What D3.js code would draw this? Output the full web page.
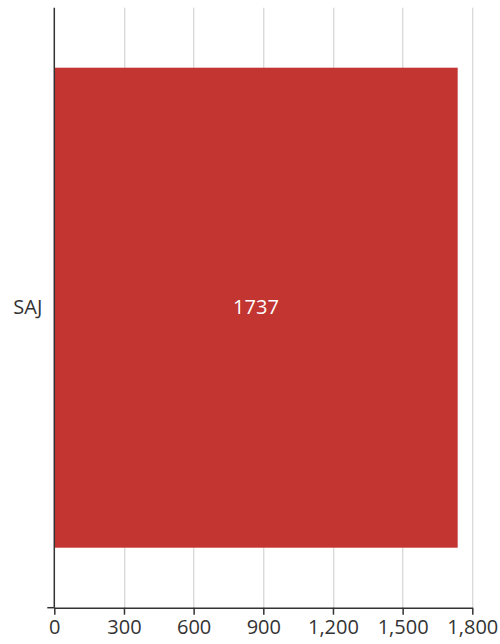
<!DOCTYPE html>
<html>
<head>
<meta charset="utf-8">
<script src="https://cdn.jsdelivr.net/npm/d3@7"></script>
<style>
  body { margin: 0; background: #fff; }
  text { font-family: "Open Sans", "Noto Sans", sans-serif; }
</style>
</head>
<body>
<svg id="chart"></svg>
<script>
"use strict";

var width = 500,
    height = 644,
    categories = ["SAJ"],
    values = [1737],
    tickValues = [0, 300, 600, 900, 1200, 1500, 1800];

var margin = { top: 7.7, right: 27.7, bottom: 36.3, left: 54.3 };
var innerW = width - margin.left - margin.right,
    innerH = height - margin.top - margin.bottom;

var x = d3.scaleLinear().domain([0, 1800]).range([0, innerW]);
var y = d3.scaleBand().domain(categories).range([0, innerH])
    .paddingInner(0.2).paddingOuter(0.1);

var svg = d3.select("#chart")
    .attr("width", width)
    .attr("height", height);

var g = svg.append("g")
    .attr("transform", "translate(" + margin.left + "," + margin.top + ")");

// vertical grid lines
g.selectAll(".grid")
    .data(tickValues.slice(1))
    .enter().append("line")
    .attr("class", "grid")
    .attr("x1", function (d) { return Math.round(x(d)) + 0.5; })
    .attr("x2", function (d) { return Math.round(x(d)) + 0.5; })
    .attr("y1", 0)
    .attr("y2", innerH)
    .attr("stroke", "#ccc")
    .attr("stroke-width", 1);

// bars
g.selectAll(".bar")
    .data(values)
    .enter().append("rect")
    .attr("class", "bar")
    .attr("x", 0)
    .attr("y", function (d, i) { return y(categories[i]); })
    .attr("width", function (d) { return x(d); })
    .attr("height", y.bandwidth())
    .attr("fill", "#c23531");

// value labels
g.selectAll(".val")
    .data(values)
    .enter().append("text")
    .attr("class", "val")
    .attr("x", function (d) { return x(d) / 2; })
    .attr("y", function (d, i) { return y(categories[i]) + y.bandwidth() / 2; })
    .attr("dy", "0.3em")
    .attr("text-anchor", "middle")
    .attr("fill", "#fff")
    .attr("font-size", 20)
    .text(function (d) { return d; });

// x axis
var xAxis = g.append("g")
    .attr("transform", "translate(0," + innerH + ")")
    .call(d3.axisBottom(x)
        .tickValues(tickValues)
        .tickSize(7)
        .tickSizeOuter(0)
        .tickPadding(5)
        .tickFormat(d3.format(",")));
xAxis.select(".domain").attr("stroke", "#333").attr("stroke-width", 1.5);
xAxis.selectAll(".tick line").attr("stroke", "#333").attr("stroke-width", 1.5);
xAxis.selectAll(".tick text")
    .attr("fill", "#333")
    .attr("font-size", 20);

// y axis
var yAxis = g.append("g")
    .call(d3.axisLeft(y).tickSize(0).tickPadding(12));
yAxis.select(".domain").remove();
yAxis.selectAll(".tick text")
    .attr("dy", "0.3em")
    .attr("fill", "#333")
    .attr("font-size", 20);

g.append("line")
    .attr("x1", 0).attr("x2", 0)
    .attr("y1", 0).attr("y2", innerH)
    .attr("stroke", "#333").attr("stroke-width", 1.5);
g.append("line")
    .attr("x1", -7).attr("x2", 0)
    .attr("y1", innerH).attr("y2", innerH)
    .attr("stroke", "#333").attr("stroke-width", 1.5);
</script>
</body>
</html>
